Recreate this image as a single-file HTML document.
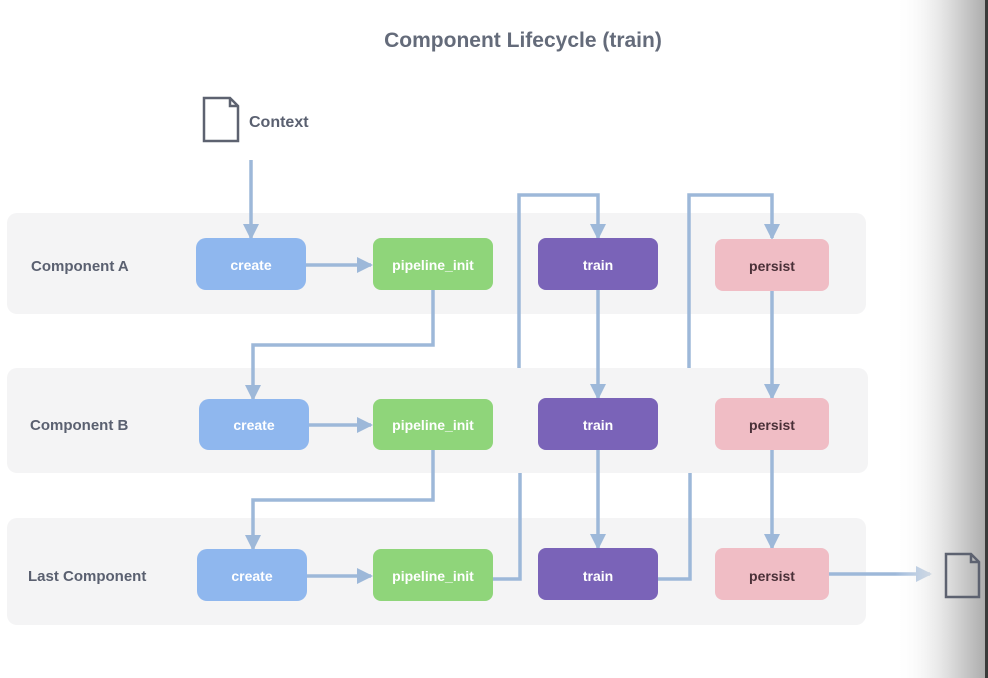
<!DOCTYPE html>
<html><head><style>
html,body{margin:0;padding:0;background:#fff;}
svg{display:block;font-family:"Liberation Sans",sans-serif;}
</style></head><body>
<svg width="988" height="678" viewBox="0 0 988 678" xmlns="http://www.w3.org/2000/svg">
<defs>
<linearGradient id="g" x1="0" x2="1" y1="0" y2="0">
<stop offset="0" stop-color="#fff" stop-opacity="0"/>
<stop offset="0.6" stop-color="#dcdcdc"/>
<stop offset="1" stop-color="#acacac"/>
</linearGradient>
<marker id="b" markerWidth="16" markerHeight="16" refX="14" refY="8" orient="auto" markerUnits="userSpaceOnUse" viewBox="0 0 16 16">
<path d="M0,0 L16,8 L0,16 z" fill="#9db8d9"/>
</marker>
</defs>
<rect x="0" y="0" width="988" height="678" fill="#fff"/>
<text x="523" y="47" text-anchor="middle" font-size="21" font-weight="bold" fill="#646b7a">Component Lifecycle (train)</text>

<rect x="7" y="213" width="859" height="101" rx="10" fill="#f4f4f5"/>
<rect x="7" y="368" width="861" height="105" rx="10" fill="#f4f4f5"/>
<rect x="7" y="518" width="859" height="107" rx="10" fill="#f4f4f5"/>

<g font-size="15" font-weight="bold" fill="#5a6070">
<text x="31" y="271">Component A</text>
<text x="30" y="430">Component B</text>
<text x="28" y="581">Last Component</text>
</g>

<path d="M204,98 L230,98 L238,106 L238,141 L204,141 Z M230,98 L230,106 L238,106" fill="#fff" stroke="#5d6270" stroke-width="2.5"/>
<text x="249" y="127" font-size="16" font-weight="bold" fill="#5a6070">Context</text>

<g stroke="#9db8d9" stroke-width="3.5" fill="none">
<path d="M251,160 L251,238" marker-end="url(#b)"/>
<path d="M306,265 L371,265" marker-end="url(#b)"/>
<path d="M309,425 L371,425" marker-end="url(#b)"/>
<path d="M307,576 L371,576" marker-end="url(#b)"/>
<path d="M433,290 L433,345 L253,345 L253,399" marker-end="url(#b)"/>
<path d="M433,450 L433,500 L253,500 L253,549" marker-end="url(#b)"/>
<path d="M519,368 L519,195 L598,195 L598,238" marker-end="url(#b)"/>
<path d="M689,368 L689,195 L772,195 L772,238" marker-end="url(#b)"/>
<path d="M493,579 L520,579 L520,473"/>
<path d="M658,579 L690,579 L690,473"/>
<path d="M598,290 L598,398" marker-end="url(#b)"/>
<path d="M598,450 L598,548" marker-end="url(#b)"/>
<path d="M772,291 L772,398" marker-end="url(#b)"/>
<path d="M772,450 L772,548" marker-end="url(#b)"/>
<path d="M829,574 L930,574" marker-end="url(#b)"/>
</g>

<g font-size="14" font-weight="bold" text-anchor="middle">
<rect x="196" y="238" width="110" height="52" rx="10" fill="#8fb7ee"/>
<text x="251" y="270" fill="#fff">create</text>
<rect x="199" y="399" width="110" height="51" rx="10" fill="#8fb7ee"/>
<text x="254" y="430" fill="#fff">create</text>
<rect x="197" y="549" width="110" height="52" rx="10" fill="#8fb7ee"/>
<text x="252" y="581" fill="#fff">create</text>

<rect x="373" y="238" width="120" height="52" rx="8" fill="#8fd57a"/>
<text x="433" y="270" fill="#fff">pipeline_init</text>
<rect x="373" y="399" width="120" height="51" rx="8" fill="#8fd57a"/>
<text x="433" y="430" fill="#fff">pipeline_init</text>
<rect x="373" y="549" width="120" height="52" rx="8" fill="#8fd57a"/>
<text x="433" y="581" fill="#fff">pipeline_init</text>

<rect x="538" y="238" width="120" height="52" rx="8" fill="#7a63b8"/>
<text x="598" y="270" fill="#fff">train</text>
<rect x="538" y="398" width="120" height="52" rx="8" fill="#7a63b8"/>
<text x="598" y="430" fill="#fff">train</text>
<rect x="538" y="548" width="120" height="52" rx="8" fill="#7a63b8"/>
<text x="598" y="581" fill="#fff">train</text>

<rect x="715" y="239" width="114" height="52" rx="8" fill="#f0bdc5"/>
<text x="772" y="271" fill="#4a3038">persist</text>
<rect x="715" y="398" width="114" height="52" rx="8" fill="#f0bdc5"/>
<text x="772" y="430" fill="#4a3038">persist</text>
<rect x="715" y="548" width="114" height="52" rx="8" fill="#f0bdc5"/>
<text x="772" y="581" fill="#4a3038">persist</text>
</g>

<rect x="895" y="0" width="91" height="678" fill="url(#g)"/>
<rect x="985" y="0" width="3" height="678" fill="#3a3a3a"/>
<path d="M946,554 L971,554 L979,562 L979,597 L946,597 Z M971,554 L971,562 L979,562" fill="none" stroke="#5d6270" stroke-width="2.5"/>
</svg>
</body></html>
